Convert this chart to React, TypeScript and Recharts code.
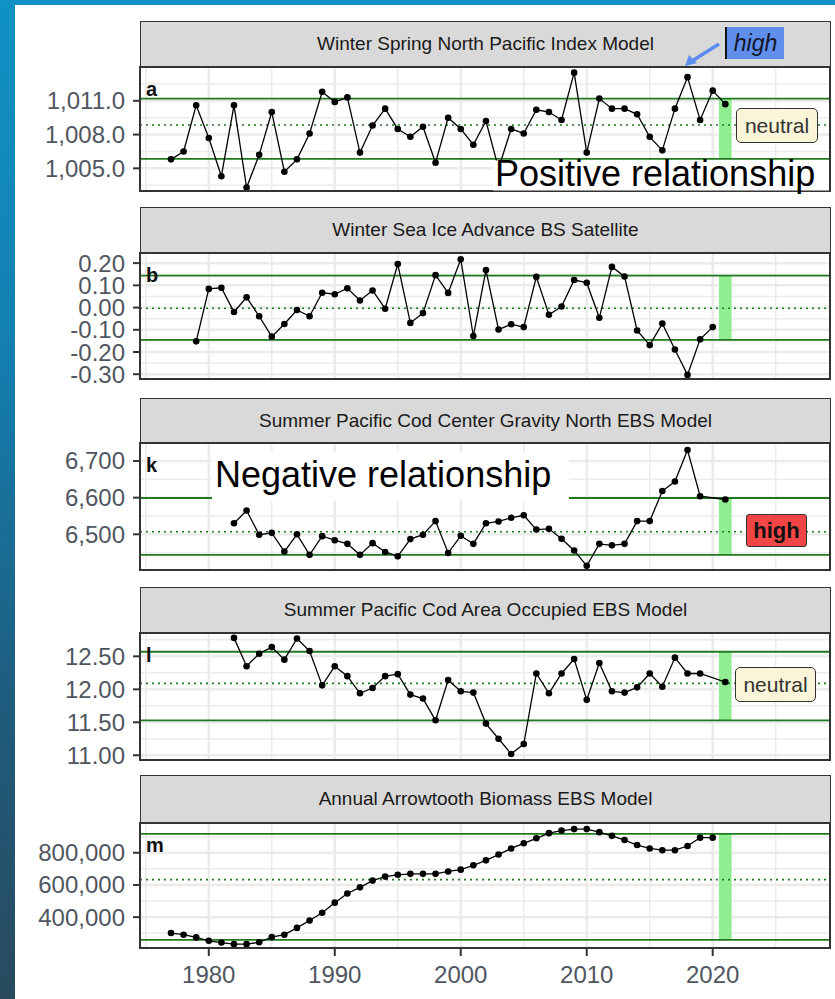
import React from 'react';
import { LineChart, Line, XAxis, YAxis, CartesianGrid, ReferenceLine, ReferenceArea } from 'recharts';

const FONT = '"Liberation Sans", Arial, sans-serif';
const GRID = '#EBEBEB';
const GREEN = '#1F7A1F';
const X_DOMAIN: [number, number] = [1974.54, 2029.31];

const majorYears = [1980, 1990, 2000, 2010, 2020];
const minorYears = [1975, 1985, 1995, 2005, 2015, 2025];

// a: Winter Spring North Pacific Index
const yearsA = [
  1977, 1978, 1979, 1980, 1981, 1982, 1983, 1984, 1985, 1986, 1987, 1988, 1989, 1990, 1991,
  1992, 1993, 1994, 1995, 1996, 1997, 1998, 1999, 2000, 2001, 2002, 2003, 2004, 2005, 2006,
  2007, 2008, 2009, 2010, 2011, 2012, 2013, 2014, 2015, 2016, 2017, 2018, 2019, 2020, 2021,
];
const npiA = [
  1005.8, 1006.5, 1010.6, 1007.7, 1004.3, 1010.6, 1003.3, 1006.2, 1010.0, 1004.7, 1005.8, 1008.1,
  1011.8, 1010.9, 1011.3, 1006.4, 1008.8, 1010.3, 1008.5, 1007.8, 1008.7, 1005.5, 1009.5, 1008.5,
  1007.1, 1009.2, 1005.0, 1008.5, 1008.1, 1010.2, 1010.0, 1009.3, 1013.5, 1006.4, 1011.2, 1010.3,
  1010.3, 1009.8, 1007.8, 1006.6, 1010.3, 1013.1, 1009.3, 1011.9, 1010.7,
];

// b: Winter Sea Ice Advance
const yearsB = [
  1979, 1980, 1981, 1982, 1983, 1984, 1985, 1986, 1987, 1988, 1989, 1990, 1991, 1992, 1993,
  1994, 1995, 1996, 1997, 1998, 1999, 2000, 2001, 2002, 2003, 2004, 2005, 2006, 2007, 2008,
  2009, 2010, 2011, 2012, 2013, 2014, 2015, 2016, 2017, 2018, 2019, 2020,
];
const iceB = [
  -0.152, 0.084, 0.089, -0.02, 0.046, -0.039, -0.131, -0.074, -0.011, -0.039, 0.067, 0.06,
  0.087, 0.032, 0.077, -0.005, 0.196, -0.069, -0.025, 0.146, 0.066, 0.217, -0.128, 0.169,
  -0.099, -0.075, -0.088, 0.138, -0.032, 0.005, 0.124, 0.112, -0.046, 0.183, 0.14, -0.103,
  -0.169, -0.072, -0.189, -0.303, -0.143, -0.088,
];

// k and l: survey years (no 2020 survey)
const yearsSurvey = [
  1982, 1983, 1984, 1985, 1986, 1987, 1988, 1989, 1990, 1991, 1992, 1993, 1994, 1995, 1996,
  1997, 1998, 1999, 2000, 2001, 2002, 2003, 2004, 2005, 2006, 2007, 2008, 2009, 2010, 2011,
  2012, 2013, 2014, 2015, 2016, 2017, 2018, 2019, 2021,
];
const codGravityK = [
  6530, 6565, 6499, 6504, 6453, 6500, 6444, 6495, 6484, 6474, 6444, 6476, 6452, 6440, 6487,
  6499, 6536, 6449, 6496, 6474, 6530, 6535, 6545, 6552, 6513, 6515, 6488, 6456, 6414, 6474,
  6470, 6474, 6536, 6536, 6618, 6644, 6730, 6604, 6595,
];
const codAreaL = [
  12.78, 12.35, 12.54, 12.64, 12.45, 12.77, 12.58, 12.06, 12.35, 12.2, 11.94, 12.02, 12.2,
  12.23, 11.92, 11.86, 11.53, 12.14, 11.97, 11.95, 11.48, 11.25, 11.02, 11.17, 12.24, 11.94,
  12.24, 12.46, 11.84, 12.4, 11.97, 11.95, 12.03, 12.24, 12.04, 12.48, 12.24, 12.24, 12.11,
];

// m: Arrowtooth biomass
const yearsM = [
  1977, 1978, 1979, 1980, 1981, 1982, 1983, 1984, 1985, 1986, 1987, 1988, 1989, 1990, 1991,
  1992, 1993, 1994, 1995, 1996, 1997, 1998, 1999, 2000, 2001, 2002, 2003, 2004, 2005, 2006,
  2007, 2008, 2009, 2010, 2011, 2012, 2013, 2014, 2015, 2016, 2017, 2018, 2019, 2020,
];
const arrowtoothM = [
  301000, 291000, 274000, 253000, 242000, 232000, 232000, 244000, 276000, 291000, 333000,
  379000, 427000, 490000, 547000, 585000, 627000, 652000, 663000, 669000, 669000, 669000,
  684000, 695000, 722000, 753000, 789000, 827000, 859000, 890000, 922000, 938000, 947000,
  947000, 928000, 905000, 879000, 848000, 827000, 816000, 816000, 842000, 894000, 894000,
];

const fmtComma1 = (v: number) =>
  v.toLocaleString('en-US', { minimumFractionDigits: 1, maximumFractionDigits: 1 });
const fmtComma0 = (v: number) => v.toLocaleString('en-US', { maximumFractionDigits: 0 });
const fmt2 = (v: number) => v.toFixed(2);

interface PanelDef {
  title: string;
  letter: string;
  years: number[];
  values: number[];
  domain: [number, number];
  ticks: number[];
  minor: number[];
  upper: number;
  mean: number;
  lower: number;
  format: (v: number) => string;
  stripTop: number;
  plotTop: number;
  plotBottom: number;
  showX?: boolean;
}

const panels: PanelDef[] = [
  {
    title: 'Winter Spring North Pacific Index Model', letter: 'a',
    years: yearsA, values: npiA, domain: [1002.9, 1014.0],
    ticks: [1005, 1008, 1011], minor: [1003.5, 1006.5, 1009.5, 1012.5],
    upper: 1011.2, mean: 1008.85, lower: 1005.85, format: fmtComma1,
    stripTop: 21, plotTop: 67, plotBottom: 192,
  },
  {
    title: 'Winter Sea Ice Advance BS Satellite', letter: 'b',
    years: yearsB, values: iceB, domain: [-0.326, 0.2456],
    ticks: [-0.3, -0.2, -0.1, 0, 0.1, 0.2], minor: [-0.25, -0.15, -0.05, 0.05, 0.15],
    upper: 0.144, mean: -0.003, lower: -0.145, format: fmt2,
    stripTop: 207, plotTop: 253, plotBottom: 380,
  },
  {
    title: 'Summer Pacific Cod Center Gravity North EBS Model', letter: 'k',
    years: yearsSurvey, values: codGravityK, domain: [6400, 6749],
    ticks: [6500, 6600, 6700], minor: [6450, 6550, 6650],
    upper: 6599, mean: 6507, lower: 6444, format: fmtComma0,
    stripTop: 398, plotTop: 443, plotBottom: 571,
  },
  {
    title: 'Summer Pacific Cod Area Occupied EBS Model', letter: 'l',
    years: yearsSurvey, values: codAreaL, domain: [10.913, 12.854],
    ticks: [11, 11.5, 12, 12.5], minor: [11.25, 11.75, 12.25, 12.75],
    upper: 12.57, mean: 12.09, lower: 11.53, format: fmt2,
    stripTop: 587, plotTop: 633, plotBottom: 761,
  },
  {
    title: 'Annual Arrowtooth Biomass EBS Model', letter: 'm',
    years: yearsM, values: arrowtoothM, domain: [202000, 985000],
    ticks: [400000, 600000, 800000], minor: [300000, 500000, 700000, 900000],
    upper: 917000, mean: 633000, lower: 259000, format: fmtComma0,
    stripTop: 775, plotTop: 823, plotBottom: 949, showX: true,
  },
];

const tickStyle = { fontSize: 24, fill: '#50565f', fontFamily: FONT };

function Panel({ p }: { p: PanelDef }) {
  const data = p.years.map((year, i) => ({ year, value: p.values[i] }));
  const plotH = p.plotBottom - p.plotTop;
  const xAxisH = p.showX ? 50 : 0;
  return (
    <>
      <div
        style={{
          position: 'absolute', left: 140, top: p.stripTop, width: 691,
          height: p.plotTop - p.stripTop, background: '#D9D9D9', border: '1.5px solid #333',
          boxSizing: 'border-box', display: 'flex', alignItems: 'center',
          justifyContent: 'center', fontSize: 19, color: '#1A1A1A', fontFamily: FONT,
        }}
      >
        {p.title}
      </div>
      <div style={{ position: 'absolute', left: 0, top: p.plotTop }}>
        <LineChart
          width={835}
          height={plotH + xAxisH}
          data={data}
          margin={{ top: 0, right: 5, bottom: 0, left: 0 }}
          style={{ overflow: 'visible' }}
        >
          {/* minor then major grid */}
          <CartesianGrid
            stroke={GRID}
            strokeWidth={1.5}
            verticalValues={minorYears}
            horizontalValues={p.minor}
          />
          <CartesianGrid
            stroke={GRID}
            strokeWidth={2.5}
            verticalValues={majorYears}
            horizontalValues={p.ticks}
          />
          <XAxis
            type="number"
            dataKey="year"
            domain={X_DOMAIN}
            allowDataOverflow
            ticks={majorYears}
            hide={!p.showX}
            height={xAxisH}
            axisLine={false}
            tickLine={{ stroke: '#333', strokeWidth: 2 }}
            tickSize={7}
            tickMargin={10}
            tick={tickStyle}
          />
          <YAxis
            type="number"
            domain={p.domain}
            allowDataOverflow
            ticks={p.ticks}
            interval={0}
            width={140}
            axisLine={false}
            tickLine={{ stroke: '#333', strokeWidth: 2 }}
            tickSize={7}
            tickMargin={8}
            tickFormatter={p.format}
            tick={tickStyle}
          />
          <ReferenceArea
            x1={2020.5}
            x2={2021.5}
            y1={p.lower}
            y2={p.upper}
            fill="#90EE90"
            fillOpacity={1}
            stroke="none"
          />
          <ReferenceLine y={p.upper} stroke={GREEN} strokeWidth={1.8} />
          <ReferenceLine y={p.lower} stroke={GREEN} strokeWidth={1.8} />
          <ReferenceLine y={p.mean} stroke={GREEN} strokeWidth={1.6} strokeDasharray="2 4" />
          <Line
            type="linear"
            dataKey="value"
            stroke="#000"
            strokeWidth={1.3}
            dot={{ r: 3.3, fill: '#000', stroke: '#000', strokeWidth: 0 }}
            activeDot={false}
            isAnimationActive={false}
          />
        </LineChart>
      </div>
      <div
        style={{
          position: 'absolute', left: 139, top: p.plotTop - 1, width: 692, height: plotH + 1,
          border: '2px solid #333', boxSizing: 'border-box', pointerEvents: 'none',
        }}
      />
      <div
        style={{
          position: 'absolute', left: 146, top: p.plotTop + 11, fontSize: 20,
          fontWeight: 700, color: '#111', fontFamily: FONT, lineHeight: '22px',
        }}
      >
        {p.letter}
      </div>
    </>
  );
}

const boxBase: React.CSSProperties = {
  position: 'absolute', boxSizing: 'border-box', display: 'flex', alignItems: 'center',
  justifyContent: 'center', fontFamily: FONT,
};

export default function App() {
  return (
    <div
      style={{
        position: 'absolute', left: 0, top: 0, width: 835, height: 999, overflow: 'hidden',
        background: 'linear-gradient(to bottom, #1092c5 0%, #137fb0 35%, #1f5d7e 70%, #294a5e 100%)',
        fontFamily: FONT,
      }}
    >
      <style>{'.recharts-surface{overflow:visible}'}</style>
      <div style={{ position: 'absolute', left: 15, top: 5, width: 820, height: 994, background: '#fff' }} />
      {panels.map((p) => (
        <Panel key={p.letter} p={p} />
      ))}

      {/* annotations */}
      <svg width={835} height={999} style={{ position: 'absolute', left: 0, top: 0, pointerEvents: 'none' }}>
        <line x1={719} y1={44} x2={692} y2={61} stroke="#5B8DEF" strokeWidth={3.5} />
        <polygon points="685,66 689,55 697,63" fill="#5B8DEF" />
        <rect x={493} y={160.5} width={336} height={30} fill="#fff" />
        <text x={495} y={186} fontSize={36} fill="#000" fontFamily={FONT}>
          Positive relationship
        </text>
        <rect x={212} y={452} width={357} height={49} fill="#fff" />
        <text x={215} y={487} fontSize={36} fill="#000" fontFamily={FONT}>
          Negative relationship
        </text>
      </svg>

      <div
        style={{
          ...boxBase, left: 725, top: 27, width: 59, height: 32, background: '#5F8FEA',
          borderLeft: '2px solid #111', fontSize: 23, fontStyle: 'italic', color: '#15152a',
        }}
      >
        high
      </div>
      <div
        style={{
          ...boxBase, left: 736, top: 108, width: 82, height: 35, background: '#FAF5D8',
          border: '1.5px solid #333', borderRadius: 5, fontSize: 21, color: '#333',
        }}
      >
        neutral
      </div>
      <div
        style={{
          ...boxBase, left: 746, top: 514, width: 61, height: 33, background: '#F24545',
          border: '1.5px solid #333', borderRadius: 3, fontSize: 22, fontWeight: 700, color: '#111',
        }}
      >
        high
      </div>
      <div
        style={{
          ...boxBase, left: 735, top: 667, width: 81, height: 35, background: '#FAF5D8',
          border: '1.5px solid #333', borderRadius: 5, fontSize: 21, color: '#333',
        }}
      >
        neutral
      </div>
    </div>
  );
}
